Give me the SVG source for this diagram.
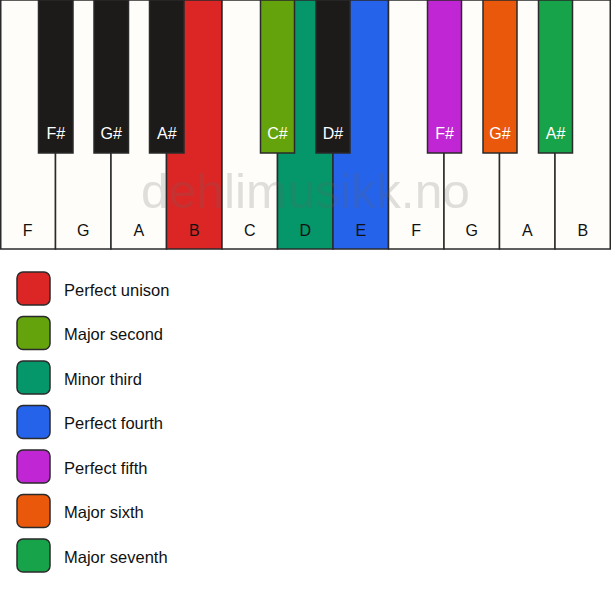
<svg xmlns="http://www.w3.org/2000/svg" width="611" height="594" viewBox="0 0 611 594">
<style>
.w{fill:#FFFDF9;stroke:#2a2a2a;stroke-width:1.5}
.b{fill:#1C1B1A;stroke:#2a2a2a;stroke-width:1.5}
.lw{font-family:"Liberation Sans",Arial,sans-serif;font-size:16px;fill:#111;text-anchor:middle}
.lb{font-family:"Liberation Sans",Arial,sans-serif;font-size:16px;fill:#fff;text-anchor:middle}
.lg{font-family:"Liberation Sans",Arial,sans-serif;font-size:16.5px;fill:#111}
.sq{stroke:#2a2a2a;stroke-width:1.5}
</style>
<rect width="611" height="594" fill="#ffffff"/>
<g id="white-keys">
<g id="k-F1"><rect class="w" x="0.75" y="0" width="54.75" height="249"/><text class="lw" x="27.75" y="236">F</text></g>
<g id="k-G1"><rect class="w" x="55.5" y="0" width="55.5" height="249"/><text class="lw" x="83.25" y="236">G</text></g>
<g id="k-A1"><rect class="w" x="111" y="0" width="55.5" height="249"/><text class="lw" x="138.75" y="236">A</text></g>
<g id="k-B1"><rect class="w" x="166.5" y="0" width="55.5" height="249" style="fill:#DC2626"/><text class="lw" x="194.25" y="236">B</text></g>
<g id="k-C"><rect class="w" x="222" y="0" width="55.5" height="249"/><text class="lw" x="249.75" y="236">C</text></g>
<g id="k-D"><rect class="w" x="277.5" y="0" width="55.5" height="249" style="fill:#059669"/><text class="lw" x="305.25" y="236">D</text></g>
<g id="k-E"><rect class="w" x="333" y="0" width="55.5" height="249" style="fill:#2563EB"/><text class="lw" x="360.75" y="236">E</text></g>
<g id="k-F2"><rect class="w" x="388.5" y="0" width="55.5" height="249"/><text class="lw" x="416.25" y="236">F</text></g>
<g id="k-G2"><rect class="w" x="444" y="0" width="55.5" height="249"/><text class="lw" x="471.75" y="236">G</text></g>
<g id="k-A2"><rect class="w" x="499.5" y="0" width="55.5" height="249"/><text class="lw" x="527.25" y="236">A</text></g>
<g id="k-B2"><rect class="w" x="555" y="0" width="55.25" height="249"/><text class="lw" x="582.75" y="236">B</text></g>
</g>
<g id="watermark"><text x="305.5" y="208" font-family="'Liberation Sans',Arial,sans-serif" font-size="48" fill="#666" fill-opacity="0.2" text-anchor="middle" textLength="329" lengthAdjust="spacingAndGlyphs">dehlimusikk.no</text></g>
<g id="black-keys">
<g id="k-Fs1"><rect class="b" x="38.5" y="0" width="34.5" height="153"/><text class="lb" x="55.75" y="139">F#</text></g>
<g id="k-Gs1"><rect class="b" x="94" y="0" width="34.5" height="153"/><text class="lb" x="111.25" y="139">G#</text></g>
<g id="k-As1"><rect class="b" x="149.5" y="0" width="34.5" height="153"/><text class="lb" x="166.75" y="139">A#</text></g>
<g id="k-Cs"><rect class="b" x="260.5" y="0" width="34" height="153" style="fill:#65A30D"/><text class="lb" x="277.5" y="139">C#</text></g>
<g id="k-Ds"><rect class="b" x="316" y="0" width="34" height="153"/><text class="lb" x="333" y="139">D#</text></g>
<g id="k-Fs2"><rect class="b" x="427.5" y="0" width="34" height="153" style="fill:#C026D3"/><text class="lb" x="444.5" y="139">F#</text></g>
<g id="k-Gs2"><rect class="b" x="483" y="0" width="34" height="153" style="fill:#EA580C"/><text class="lb" x="500" y="139">G#</text></g>
<g id="k-As2"><rect class="b" x="538.5" y="0" width="34" height="153" style="fill:#16A34A"/><text class="lb" x="555.5" y="139">A#</text></g>
</g>
<g id="legend">
<g id="lg-unison"><rect class="sq" x="17" y="272" width="33" height="33" rx="6" fill="#DC2626"/><text class="lg" x="64" y="295.5">Perfect unison</text></g>
<g id="lg-second"><rect class="sq" x="17" y="316.5" width="33" height="33" rx="6" fill="#65A30D"/><text class="lg" x="64" y="340">Major second</text></g>
<g id="lg-third"><rect class="sq" x="17" y="361" width="33" height="33" rx="6" fill="#059669"/><text class="lg" x="64" y="384.5">Minor third</text></g>
<g id="lg-fourth"><rect class="sq" x="17" y="405.5" width="33" height="33" rx="6" fill="#2563EB"/><text class="lg" x="64" y="429">Perfect fourth</text></g>
<g id="lg-fifth"><rect class="sq" x="17" y="450" width="33" height="33" rx="6" fill="#C026D3"/><text class="lg" x="64" y="473.5">Perfect fifth</text></g>
<g id="lg-sixth"><rect class="sq" x="17" y="494.5" width="33" height="33" rx="6" fill="#EA580C"/><text class="lg" x="64" y="518">Major sixth</text></g>
<g id="lg-seventh"><rect class="sq" x="17" y="539" width="33" height="33" rx="6" fill="#16A34A"/><text class="lg" x="64" y="562.5">Major seventh</text></g>
</g>
</svg>
